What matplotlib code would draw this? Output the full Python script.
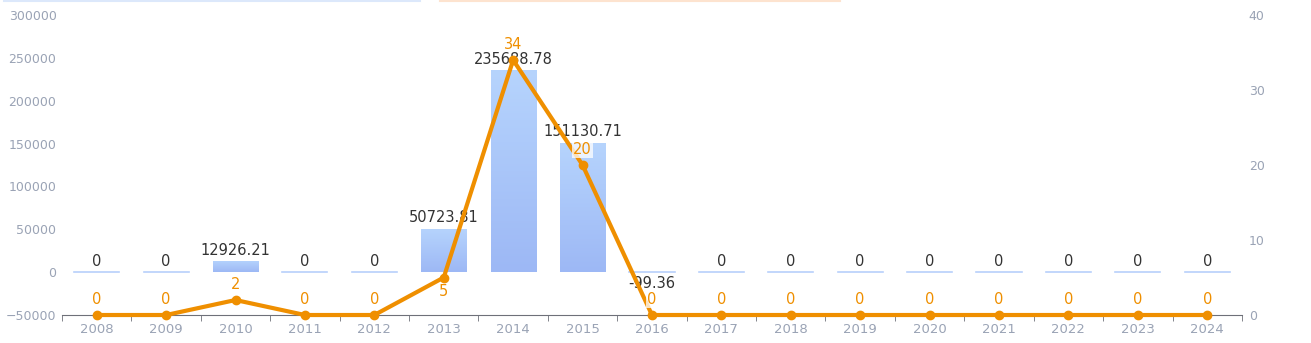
import numpy as np
import matplotlib.pyplot as plt
from matplotlib.lines import Line2D
from matplotlib.colors import LinearSegmentedColormap

years = ["2008", "2009", "2010", "2011", "2012", "2013", "2014", "2015", "2016",
         "2017", "2018", "2019", "2020", "2021", "2022", "2023", "2024"]
amounts = [0, 0, 12926.21, 0, 0, 50723.81, 235688.78, 151130.71, -99.36,
           0, 0, 0, 0, 0, 0, 0, 0]
counts = [0, 0, 2, 0, 0, 5, 34, 20, 0, 0, 0, 0, 0, 0, 0, 0, 0]

tick_color = "#9aa3b5"
line_color = "#ef8f00"


def fmt(v):
    s = f"{v:.2f}".rstrip("0").rstrip(".")
    return s


fig = plt.figure(figsize=(13.11, 3.43), dpi=100)
ax = fig.add_axes([0.0473, 0.0816, 0.9, 0.8746])
ax2 = ax.twinx()

x = np.arange(len(years))
bw = 0.65

# bars with a vertical gradient
ax.set_xlim(-0.5, len(years) - 0.5)
ax.set_ylim(-50000, 300000)
grad = np.linspace(0, 1, 100).reshape(-1, 1)
cmap = LinearSegmentedColormap.from_list("b", ["#9db8f5", "#b6d4fd"])
bars = ax.bar(x, amounts, width=bw, color="#a9c6fa", zorder=2)
for b, v in zip(bars, amounts):
    if abs(v) < 1000:
        ax.plot([b.get_x(), b.get_x() + bw], [0, 0], color="#b8d0fb", lw=1.2, zorder=2)
        continue
    b.set_facecolor("none")
    im = ax.imshow(grad, extent=[b.get_x(), b.get_x() + bw, 0, v], origin="lower",
                   cmap=cmap, aspect="auto", zorder=2)
    im.set_clip_path(b)

for xi, v in zip(x, amounts):
    if v < 0:
        ax.annotate(fmt(v), (xi, 0), xytext=(0, -3), textcoords="offset points",
                    ha="center", va="top", fontsize=10.5, color="#333333", zorder=4)
    else:
        ax.annotate(fmt(v), (xi, v), xytext=(0, 2.5), textcoords="offset points",
                    ha="center", va="bottom", fontsize=10.5, color="#333333", zorder=4)

# line on the right axis
ax2.set_ylim(0, 40)
ax2.plot(x, counts, color=line_color, lw=3, marker="o", ms=6, zorder=5, clip_on=False)
for xi, v in zip(x, counts):
    box = None
    if years[xi] in ("2015", "2016"):
        box = dict(boxstyle="square,pad=0.1", fc="white", ec="none", alpha=0.75)
    if years[xi] == "2013":
        # label sits below the point here
        ax2.annotate(str(v), (xi, v), xytext=(0, -5), textcoords="offset points",
                     ha="center", va="top", fontsize=10.5, color=line_color, zorder=6)
        continue
    ax2.annotate(str(v), (xi, v), xytext=(0, 6), textcoords="offset points",
                 ha="center", va="bottom", fontsize=10.5, color=line_color,
                 bbox=box, zorder=6)

# axes styling
ax.set_xticks(x)
ax.set_xticklabels(years)
ax.set_xticks(np.arange(-0.5, len(years)), minor=True)
ax.tick_params(axis="x", which="major", length=0, labelsize=9.5, colors=tick_color, pad=6)
ax.tick_params(axis="x", which="minor", length=4, color="#6e7079")
ax.set_yticks(np.arange(-50000, 300001, 50000))
ax.tick_params(axis="y", length=0, labelsize=9, colors=tick_color, pad=4)
ax2.set_yticks(np.arange(0, 41, 10))
ax2.tick_params(axis="y", length=0, labelsize=9, colors=tick_color, pad=5)

for a in (ax, ax2):
    for s in ("top", "left", "right"):
        a.spines[s].set_visible(False)
ax.spines["bottom"].set_color("#6e7079")
ax2.spines["bottom"].set_visible(False)
ax.set_zorder(1)
ax2.set_zorder(2)
ax2.patch.set_visible(False)

# clipped legend remnants at the top edge
fig.add_artist(Line2D([0.003, 0.32], [0.998, 0.998], color="#dce8fb", lw=1.5))
fig.add_artist(Line2D([0.336, 0.641], [0.998, 0.998], color="#fde3cf", lw=1.5))

fig.savefig("out.png", dpi=100)
